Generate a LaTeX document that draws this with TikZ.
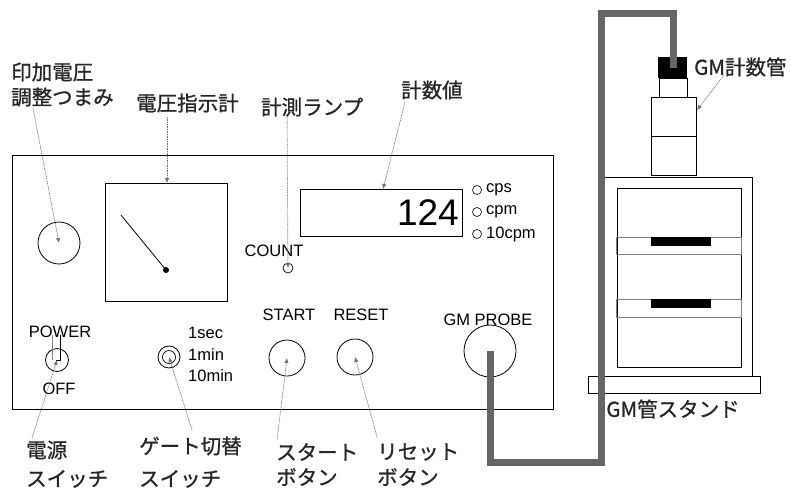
\documentclass[tikz,border=0pt]{standalone}
\usepackage{fontspec}
\setmainfont{Liberation Sans}
\newfontfamily\jp{Noto Sans CJK JP}[BoldFont={Noto Sans CJK JP},BoldFeatures={FakeBold=0.9}]
\usetikzlibrary{arrows.meta}
\definecolor{cablegray}{HTML}{666666}
\definecolor{ptrgray}{HTML}{707070}

\begin{document}
\begin{tikzpicture}[x=1pt,y=-1pt,
  outline/.style={draw=black,line width=0.8pt},
  ptr/.style={densely dotted,draw=ptrgray,line width=0.7pt,
    -{Latex[length=5pt,width=4.5pt]},fill=ptrgray},
  jlabel/.style={font=\jp\bfseries\fontsize{20.5}{24}\selectfont,inner sep=0pt,anchor=west,text=black!85},
  elabel/.style={font=\fontsize{16.5}{19}\selectfont,inner sep=0pt},
  cable/.style={draw=cablegray,line width=7pt,line cap=butt,line join=miter}]
\useasboundingbox (0,0) rectangle (791,490);

% ---------------- counter front panel ----------------
\draw[outline] (12,155) rectangle (553,409);

% high-voltage knob
\node[outline,circle,minimum size=42pt,inner sep=0pt] (knob) at (59,243) {};

% voltage meter with needle
\draw[outline] (105,183) rectangle (227,301);
\coordinate (metertop) at (167,183);
\draw[line width=0.8pt] (121,215) -- (166,270);
\fill (166,270) circle (3);

% count display
\draw[outline] (300,189) rectangle (462,236);
\coordinate (disptop) at (383,189);
\node[font=\fontsize{37}{38}\selectfont,inner sep=0pt,anchor=east] (cnt) at (459,213) {124};

% unit selector
\foreach \yy/\tt in {190/cps,212/cpm,234/10cpm}{
  \draw[line width=0.6pt] (477,\yy) circle (4.5);
  \node[elabel,anchor=west] at (486,\yy) {\tt};
}

% count lamp
\node[elabel] (countlbl) at (274,251) {COUNT};
\node[draw,line width=0.7pt,circle,minimum size=10pt,inner sep=0pt] (lamp) at (288,268) {};

% power switch
\node[elabel] (powerlbl) at (60,332) {POWER};
\node[elabel] (offlbl) at (59,389) {OFF};
\node[outline,circle,minimum size=23pt,inner sep=0pt] (pwr) at (57,360) {};
\draw[line width=0.7pt,draw=gray] (52,335) -- (52,360);
\draw[line width=0.8pt] (60,335) -- (60,360) -- (56,360);

% gate time switch
\node[outline,circle,minimum size=22pt,inner sep=0pt] (gate) at (169,357) {};
\draw[line width=0.7pt] (gate.center) circle (6.5);
\node[elabel,anchor=west] at (188,333) {1sec};
\node[elabel,anchor=west] at (188,355) {1min};
\node[elabel,anchor=west] at (188,376) {10min};

% start / reset buttons
\node[elabel] (startlbl) at (289,315) {START};
\node[elabel] (resetlbl) at (361,315) {RESET};
\node[outline,circle,minimum size=36pt,inner sep=0pt] (start) at (287,358) {};
\node[outline,circle,minimum size=36pt,inner sep=0pt] (reset) at (355,357) {};

% probe socket
\node[elabel] (probelbl) at (488,320) {GM PROBE};
\node[outline,circle,minimum size=52pt,inner sep=0pt] (probe) at (490,351) {};

% ---------------- GM tube stand ----------------
\draw[outline] (588,376) rectangle (760,393);
\draw[outline] (603,177) rectangle (752,376);
\draw[outline] (617,188) rectangle (741,367);
\draw[line width=0.8pt,draw=gray] (616,237) rectangle (741,254);
\draw[line width=0.8pt,draw=gray] (616,299) rectangle (741,317);
\fill (651,237) rectangle (711,246);
\fill (651,299) rectangle (711,308);

% GM tube
\draw[outline] (651,97) rectangle (696,175);
\draw[line width=0.8pt] (651,136) -- (696,136);
\draw[outline] (659,78) rectangle (687,97);
\fill (658,57) rectangle (687,78);
\coordinate (tube) at (697,110);
\coordinate (cap) at (673,68);

% probe cable
\draw[cable] (probe.center) -- (490,462) -- (601,462) -- (601,13) -- (673,13) -- (cap);

% ---------------- labels and pointers ----------------
\node[jlabel] (l1a) at (11,72) {印加電圧};
\node[jlabel] (l1b) at (11,97) {調整つまみ};
\node[jlabel] (l2) at (136,103) {電圧指示計};
\node[jlabel] (l3) at (261,107) {計測ランプ};
\node[jlabel] (l4) at (401,90) {計数値};
\node[jlabel] (l5) at (694,67) {GM計数管};
\node[jlabel,anchor=center] (l6) at (673,409) {GM管スタンド};
\node[jlabel] (l7a) at (26,450) {電源};
\node[jlabel] (l7b) at (26,479) {スイッチ};
\node[jlabel] (l8a) at (139,446) {ゲート切替};
\node[jlabel] (l8b) at (139,479) {スイッチ};
\node[jlabel] (l9a) at (276,452) {スタート};
\node[jlabel] (l9b) at (276,477) {ボタン};
\node[jlabel] (l10a) at (377,452) {リセット};
\node[jlabel] (l10b) at (377,477) {ボタン};

\coordinate (p1) at (33,108);
\coordinate (p2) at (167,117);
\coordinate (p3) at (287,117);
\coordinate (p4) at (405,102);
\coordinate (p5) at (724,75);
\coordinate (p7) at (32,438);
\coordinate (p8) at (192,430);
\coordinate (p9) at (277,440);
\coordinate (p10) at (377,437);

\draw[ptr] (p1) -- (knob.center);
\draw[ptr] (p2) -- (metertop);
\draw[ptr] (p3) -- (lamp.center);
\draw[ptr] (p4) -- (disptop);
\draw[ptr] (p5) -- (tube);
\draw[ptr] (p7) -- (pwr.center);
\draw[ptr] (p8) -- (gate.center);
\draw[ptr] (p9) -- (start.center);
\draw[ptr] (p10) -- (reset.center);
\end{tikzpicture}
\end{document}
